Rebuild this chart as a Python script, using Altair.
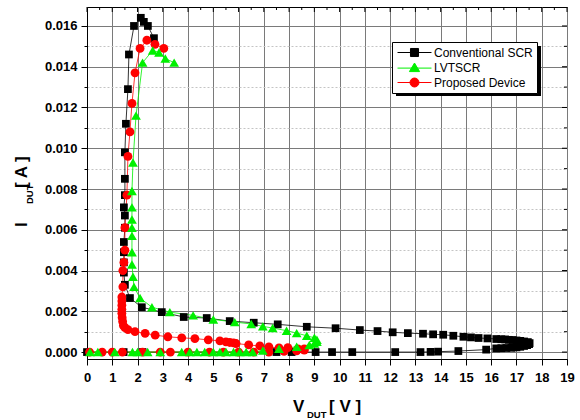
import altair as alt
import pandas as pd

# ---------------- data ----------------
series_names = ["Conventional SCR", "LVTSCR", "Proposed Device"]
series_colors = ["#000000", "#00f000", "#ff0000"]
series_shapes = ["square", "triangle-up", "circle"]
series_sizes = [60, 95, 78]
draw_order = ["Conventional SCR", "Proposed Device", "LVTSCR"]

x_title = ["V", "DUT", "[ V ]"]
y_title = ["I", "DUT", "[ A ]"]

x_ticks = [k * 0.5 for k in range(39)]
y_ticks = [round(k * 0.001, 3) for k in range(17)]

scr_v = [0.0, 1.45, 2.2, 7.5, 8.1, 9.05, 9.7, 10.5, 12.2, 13.2, 13.6, 13.9, 14.7, 15.8,
         16.2, 16.4, 16.6, 16.8, 17.0, 17.15, 17.3, 17.42, 17.5, 17.52, 17.45, 17.3, 17.15, 17.0,
         16.85, 16.7, 16.55, 16.4,
         16.2, 15.85, 15.5, 15.2, 14.9, 14.5, 14.1, 13.7, 13.3, 12.7, 12.1, 11.5, 10.8, 9.84,
         8.7, 7.55, 6.6, 5.65, 4.74, 3.83, 2.96, 2.17, 1.7,
         1.5, 1.46, 1.46, 1.46, 1.46, 1.5, 1.5, 1.46, 1.5, 1.5, 1.5, 1.54, 1.62, 1.66, 1.86,
         2.13, 2.25, 2.41, 2.65]
scr_i = [0, 0, 0, 0, 0, 0, 0, 0, 0, 0, 0.00001, 0.00002, 0.00005, 0.00012,
         0.00018, 0.00019, 0.0002, 0.00021, 0.00023, 0.00026, 0.0003, 0.00034, 0.00039, 0.00044,
         0.00049, 0.00052, 0.00055, 0.00057, 0.00059, 0.0006, 0.00062, 0.00063,
         0.00064, 0.00067, 0.00069, 0.00072, 0.00075, 0.0008, 0.00085, 0.00087, 0.0009, 0.00093,
         0.00097, 0.00103, 0.00108, 0.00117, 0.00124, 0.00136, 0.00144, 0.00152, 0.00167,
         0.00172, 0.00196, 0.0022, 0.00265,
         0.0033, 0.0039, 0.0044, 0.0049, 0.0054, 0.0061, 0.0067, 0.0071, 0.0077, 0.0085, 0.0098,
         0.0112, 0.0129, 0.0146, 0.0160, 0.0164, 0.0162, 0.0160, 0.0154]

lvt_v = [0.12, 0.43, 1.1, 1.8, 2.0, 2.4, 2.9, 3.75, 4.07, 4.35, 4.66, 5.0, 5.26, 5.5, 5.8,
         6.05, 6.3, 6.56, 6.96, 7.6, 8.3, 8.8, 9.0, 9.1, 9.1, 9.0, 8.7, 8.3, 7.9, 7.35,
         6.96, 6.5, 5.85, 5.0, 4.2, 3.28, 2.57, 2.1, 1.86, 1.82,
         1.78, 1.78, 1.78, 1.78, 1.78, 1.78, 1.78, 1.82, 1.94, 2.2, 2.6, 2.85, 3.1, 3.45]
lvt_i = [0, 0, 0, 0, 0, 0, 0, 0, 0, 0, 0, 0, 0, 0, 0, 0, 0, 0,
         0.00008, 0.00016, 0.00026, 0.00035, 0.00042, 0.0005, 0.0006, 0.0007, 0.0008, 0.00093,
         0.00105, 0.00118, 0.00126, 0.00138, 0.00147, 0.0016, 0.0018, 0.00196, 0.0022, 0.00265,
         0.0032, 0.0037,
         0.0043, 0.0049, 0.0057, 0.0061, 0.0065, 0.0071, 0.0079, 0.0093, 0.0116, 0.0142, 0.0148,
         0.0147, 0.0144, 0.0142]

pd_v = [0.1, 0.6, 1.0, 1.4, 2.2, 2.9, 3.3, 4.0, 4.85, 5.4, 6.0, 6.6, 7.2, 7.8, 8.3, 8.6,
        8.6, 8.35, 7.95, 7.6, 7.2, 6.84, 6.4, 5.9, 5.8, 5.65, 5.5, 5.26, 4.8, 4.27, 3.75, 3.2,
        2.7, 2.3, 1.9, 1.62,
        1.5, 1.44, 1.41, 1.39, 1.38, 1.38, 1.38, 1.38, 1.38, 1.42, 1.42, 1.46, 1.5, 1.5, 1.58,
        1.62, 1.7, 1.78, 1.9, 2.1, 2.37, 2.69, 3.04]
pd_i = [0, 0, 0, 0, 0, 0, 0, 0, 0, 0, 0, 0, 0, 0.00003, 0.00006, 0.0001,
        0.00015, 0.00016, 0.00022, 0.0002, 0.00025, 0.0003, 0.00035, 0.00042, 0.00045, 0.00047,
        0.0005, 0.00055, 0.0006, 0.00066, 0.0007, 0.00075, 0.00083, 0.00092, 0.001, 0.0011,
        0.0012, 0.0013, 0.0015, 0.0017, 0.0019, 0.0021, 0.0023, 0.0025, 0.0027, 0.0032, 0.004,
        0.0044, 0.005, 0.0061, 0.0077, 0.0096, 0.0108, 0.0122, 0.0137, 0.0149, 0.0153, 0.0151,
        0.0149]

series_data = {
    "Conventional SCR": (scr_v, scr_i),
    "LVTSCR": (lvt_v, lvt_i),
    "Proposed Device": (pd_v, pd_i),
}

rows = []
for name in draw_order:
    vs, cs = series_data[name]
    for k, (v, c) in enumerate(zip(vs, cs)):
        rows.append({"series": name, "V": v, "I": c, "k": k})
df = pd.DataFrame(rows)
one = pd.DataFrame({"a": [0]})
xt = pd.DataFrame({"V": x_ticks})
yt = pd.DataFrame({"I": y_ticks})

FONT = "Liberation Sans"

# ---------------- axes ----------------
x_axis = alt.Axis(
    values=x_ticks, title=None, format="d",
    labelExpr="datum.value % 1 === 0 ? datum.label : ''",
    labelFont=FONT, labelFontSize=13, labelFontWeight="bold", labelColor="black",
    labelPadding=6, labelFlush=False, labelOverlap=False,
    domainColor="black", domainWidth=1,
    tickColor="black", tickWidth=1,
    tickSize={"condition": {"test": "datum.value % 1 !== 0", "value": 3}, "value": 6},
    grid=True,
    gridColor={"condition": {"test": "datum.value % 1 !== 0", "value": "#c4c4c4"}, "value": "#7a7a7a"},
    gridDash={"condition": {"test": "datum.value % 1 !== 0", "value": [2, 2]}, "value": []},
    gridWidth=1,
)
y_axis = alt.Axis(
    values=y_ticks, title=None, format=".3f",
    labelExpr="round(datum.value * 1000) % 2 === 0 ? datum.label : ''",
    labelFont=FONT, labelFontSize=13, labelFontWeight="bold", labelColor="black",
    labelPadding=4, labelFlush=False, labelOverlap=False,
    domainColor="black", domainWidth=1,
    tickColor="black", tickWidth=1,
    tickSize={"condition": {"test": "round(datum.value * 1000) % 2 !== 0", "value": 3}, "value": 6},
    grid=True,
    gridColor={"condition": {"test": "round(datum.value * 1000) % 2 !== 0", "value": "#c4c4c4"}, "value": "#7a7a7a"},
    gridDash={"condition": {"test": "round(datum.value * 1000) % 2 !== 0", "value": [2, 2]}, "value": []},
    gridWidth=1,
)

X = alt.X("V:Q", scale=alt.Scale(domain=[0, 19], nice=False, zero=False), axis=x_axis)
Y = alt.Y("I:Q", scale=alt.Scale(domain=[-0.00034, 0.01693], nice=False, zero=False), axis=y_axis)

color_scale = alt.Scale(domain=series_names, range=series_colors)

lines = alt.Chart(df).mark_line(strokeWidth=0.8, clip=True).encode(
    x=X, y=Y,
    color=alt.Color("series:N", scale=color_scale, legend=None),
    order="k:Q",
)

point_layers = []
for name in draw_order:
    idx = series_names.index(name)
    point_layers.append(
        alt.Chart(df).transform_filter(alt.datum.series == name).mark_point(
            filled=True, opacity=1, strokeWidth=0,
            shape=series_shapes[idx], size=series_sizes[idx], color=series_colors[idx],
        ).encode(x=X, y=Y)
    )

# inward mirror ticks on the top and right frame
top_major = alt.Chart(xt).transform_filter("datum.V % 1 === 0").mark_rule(color="black").encode(
    x=X, y=alt.value(0), y2=alt.value(5))
top_minor = alt.Chart(xt).transform_filter("datum.V % 1 !== 0").mark_rule(color="black").encode(
    x=X, y=alt.value(0), y2=alt.value(3))
right_major = alt.Chart(yt).transform_filter("round(datum.I * 1000) % 2 === 0").mark_rule(color="black").encode(
    y=Y, x=alt.value(480), x2=alt.value(475))
right_minor = alt.Chart(yt).transform_filter("round(datum.I * 1000) % 2 !== 0").mark_rule(color="black").encode(
    y=Y, x=alt.value(480), x2=alt.value(477))

# legend symbols: line with marker
legend_paths = [
    "M-0.83,0H4.83M1.33,-0.67H2.67V0.67H1.33Z",
    "M-0.83,0.1H4.83M2,-0.75L2.85,0.68H1.15Z",
    "M-0.83,0H4.83M2.75,0A0.75,0.75 0 1,1 1.25,0A0.75,0.75 0 1,1 2.75,0Z",
]
leg = alt.Legend(
    title=None, orient="none", legendX=305, legendY=35,
    fillColor="white", strokeColor="black", padding=4,
    symbolSize=144, symbolStrokeWidth=1, symbolOpacity=1,
    labelOffset=25, labelFontSize=12, labelFont=FONT, labelColor="black",
    rowPadding=2,
)
legend_layer = alt.Chart(df).transform_filter("false").mark_point(
    filled=True, opacity=1, strokeWidth=1
).encode(
    fill=alt.Fill("series:N", scale=alt.Scale(domain=series_names, range=series_colors), legend=leg),
    stroke=alt.Stroke("series:N", scale=alt.Scale(domain=series_names, range=series_colors), legend=leg),
    shape=alt.Shape("series:N", scale=alt.Scale(domain=series_names, range=legend_paths), legend=leg),
)

shadow = alt.Chart(one).mark_rect(color="black").encode(
    x=alt.value(309), x2=alt.value(454), y=alt.value(39), y2=alt.value(89)
)

# axis titles with subscripts
def txt(s, x, y, size, angle=0):
    kw = dict(font=FONT, fontSize=size, fontWeight="bold", color="black",
              align="left", baseline="alphabetic")
    if angle:
        kw["angle"] = angle
    return alt.Chart(one).mark_text(**kw).encode(
        x=alt.value(x), y=alt.value(y), text=alt.value(s)
    )

titles = [
    txt(x_title[0], 206, 405, 17),
    txt(x_title[1], 220, 411, 9.5),
    txt(x_title[2], 242, 405, 17),
    txt(y_title[0], -60, 220, 17, 270),
    txt(y_title[1], -54, 197, 9.5, 270),
    txt(y_title[2], -60, 181, 17, 270),
]

chart = alt.layer(
    lines, *point_layers, top_major, top_minor, right_major, right_minor,
    shadow, legend_layer, *titles
).resolve_scale(
    shape="independent", color="independent", fill="independent", stroke="independent"
).resolve_legend(
    shape="independent", color="independent", fill="independent", stroke="independent"
).properties(
    width=480, height=352,
    padding={"left": 87, "top": 7, "right": 13, "bottom": 61},
    autosize=alt.AutoSizeParams(type="none"),
    background="white",
).configure_view(stroke="black", strokeWidth=1)

chart.save("out.html", embed_options={"renderer": "svg", "actions": False})
